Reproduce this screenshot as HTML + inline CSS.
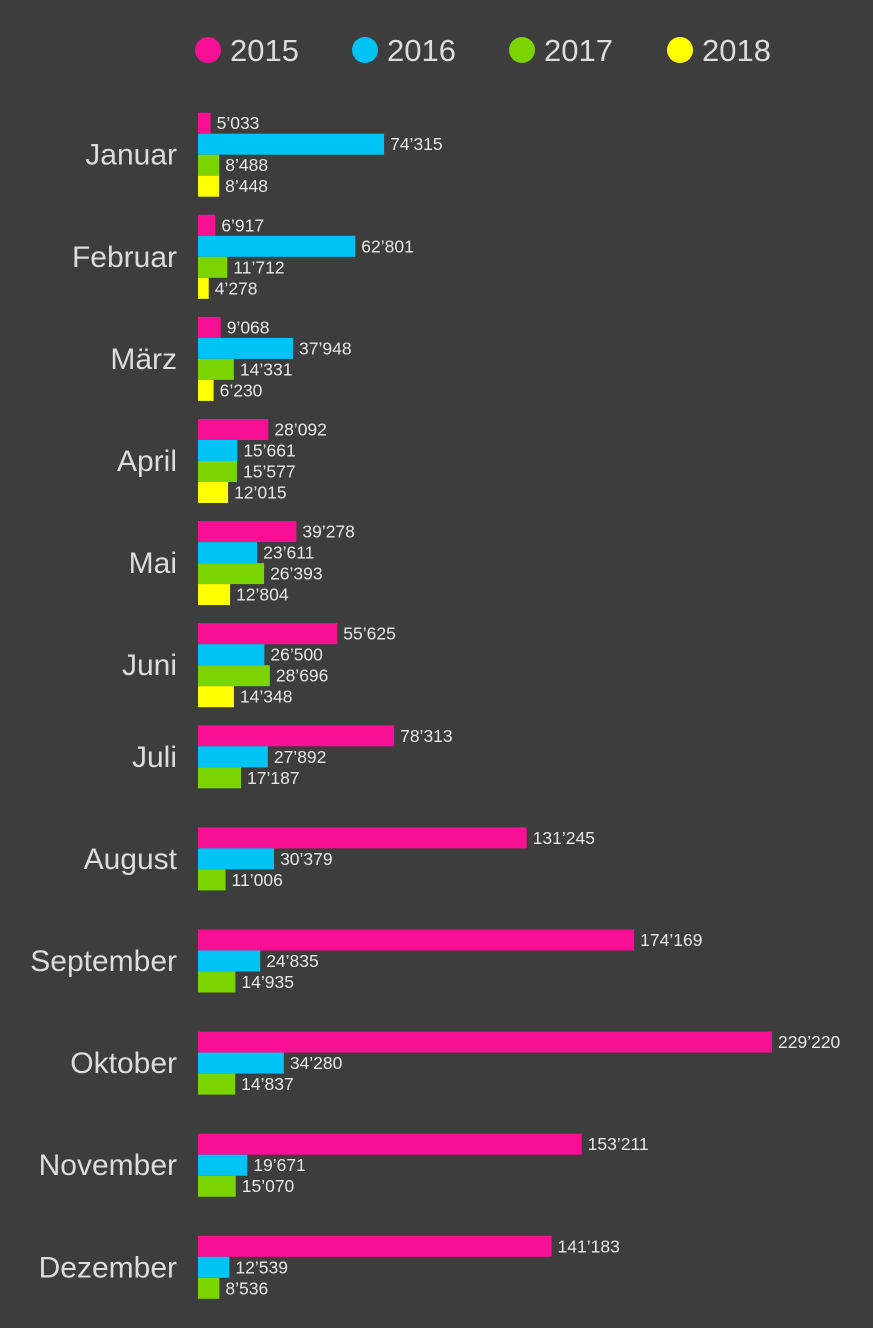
<!DOCTYPE html>
<html><head><meta charset="utf-8"><style>
body{margin:0;background:#3d3d3d;font-family:"Liberation Sans",sans-serif;}
svg{display:block}
</style></head><body>
<svg id="chart" width="873" height="1328" xmlns="http://www.w3.org/2000/svg">
<rect width="873" height="1328" fill="#3d3d3d"/>
<g id="legend"></g>
<g id="bars"></g>
</svg>
<script>
const months=["Januar","Februar","März","April","Mai","Juni","Juli","August","September","Oktober","November","Dezember"];
const seriesNames=["2015","2016","2017","2018"];
const v2015=[5033,6917,9068,28092,39278,55625,78313,131245,174169,229220,153211,141183];
const v2016=[74315,62801,37948,15661,23611,26500,27892,30379,24835,34280,19671,12539];
const v2017=[8488,11712,14331,15577,26393,28696,17187,11006,14935,14837,15070,8536];
const v2018=[8448,4278,6230,12015,12804,14348,null,null,null,null,null,null];
const labels2015=["5’033","6’917","9’068","28’092","39’278","55’625","78’313","131’245","174’169","229’220","153’211","141’183"];
const labels2016=["74’315","62’801","37’948","15’661","23’611","26’500","27’892","30’379","24’835","34’280","19’671","12’539"];
const labels2017=["8’488","11’712","14’331","15’577","26’393","28’696","17’187","11’006","14’935","14’837","15’070","8’536"];
const labels2018=["8’448","4’278","6’230","12’015","12’804","14’348",null,null,null,null,null,null];
const colors=["#f70f94","#00c3f5","#7ad400","#ffff00"];
const NS="http://www.w3.org/2000/svg";
const x0=198, xMax=229220, xEnd=772;
const xs=v=>x0+v*(xEnd-x0)/xMax;
const groupTop=i=>112.7+i*102.1;
const barH=21;
const vals=[v2015,v2016,v2017,v2018], labs=[labels2015,labels2016,labels2017,labels2018];
const bars=document.getElementById('bars');
function mk(tag,attrs,parent){const e=document.createElementNS(NS,tag);for(const k in attrs)e.setAttribute(k,attrs[k]);parent.appendChild(e);return e;}
months.forEach((m,i)=>{
  const g=mk('g',{},bars);
  
  
  let n=0;
  vals.forEach((arr,s)=>{
    const v=arr[i]; if(v==null) return; n++;
    const y=groupTop(i)+s*barH;
    const r=mk('rect',{x:x0,y:y,width:xs(v)-x0,height:barH,fill:colors[s]},g);
    
    
    const t=mk('text',{x:xs(v)+6,y:y+barH/2+6,fill:'#e6e6e6','font-size':17.5},g);
    t.textContent=labs[s][i];
    
    
  });
  const t=mk('text',{x:177,y:groupTop(i)+n*barH/2+10,fill:'#dcdcdc','font-size':30,'text-anchor':'end'},g);
  t.textContent=m;
  
  
});
const legend=document.getElementById('legend');
const lx=[208,365,522,680];
seriesNames.forEach((s,i)=>{
  const g=mk('g',{},legend);
  
  
  mk('circle',{cx:lx[i],cy:50,r:13,fill:colors[i]},g);
  const t=mk('text',{x:lx[i]+22,y:61,fill:'#dcdcdc','font-size':31},g);
  t.textContent=s;
});
</script>
</body></html>
